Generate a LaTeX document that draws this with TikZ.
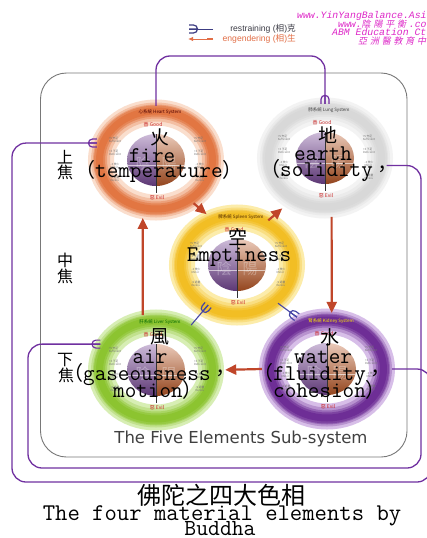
\documentclass[tikz,border=0pt]{standalone}
\usepackage{fontspec}
\usetikzlibrary{arrows.meta,calc,shapes.geometric}
\newfontfamily\cjk{Noto Sans CJK TC}
\newfontfamily\cjkit[FakeSlant=0.2]{Noto Sans CJK TC}
\newfontfamily\lsans{Liberation Sans}
\newfontfamily\dvsans{DejaVu Sans}
\newfontfamily\lmono{Liberation Mono}
\definecolor{rPurple}{RGB}{112,48,160}
\definecolor{rBlue}{RGB}{70,70,165}
\definecolor{eRed}{RGB}{192,70,42}
\definecolor{frameC}{RGB}{120,120,120}
\definecolor{fireC}{RGB}{226,118,66}
\definecolor{fireG}{RGB}{250,222,205}
\definecolor{earthC}{RGB}{216,216,216}
\definecolor{earthG}{RGB}{243,243,243}
\definecolor{midC}{RGB}{242,190,36}
\definecolor{midG}{RGB}{252,236,170}
\definecolor{airC}{RGB}{140,196,48}
\definecolor{airG}{RGB}{215,238,180}
\definecolor{waterC}{RGB}{110,46,150}
\definecolor{waterG}{RGB}{215,190,232}
\definecolor{sphP}{RGB}{120,70,152}
\definecolor{sphO}{RGB}{194,88,34}
\definecolor{webM}{RGB}{222,40,200}
\definecolor{goodR}{RGB}{200,40,40}
\definecolor{legB}{RGB}{60,60,130}
\definecolor{legO}{RGB}{226,110,70}
\definecolor{legT}{RGB}{60,60,70}
\newcommand\zlp{{\cjk\fontsize{20}{20}\selectfont （}}
\newcommand\zrp{{\cjk\fontsize{20}{20}\selectfont ）}}
\newcommand\zcm{{\cjk\fontsize{20}{20}\selectfont ，}}
\newcommand\wz[1]{{\cjkit\fontsize{9}{9}\selectfont #1}\kern2.8pt}
\newcommand\elemdraw[5]{%
  \draw[#3, line width=26pt] (#1.center) ellipse [x radius=55, y radius=47.5];
  \draw[#3!70!#2, line width=19pt] (#1.center) ellipse [x radius=55.5, y radius=48];
  \draw[#3!40!#2, line width=14pt] (#1.center) ellipse [x radius=56, y radius=48.5];
  \draw[#3!15!#2, line width=11pt] (#1.center) ellipse [x radius=56.5, y radius=49];
  \draw[#2, line width=7pt] (#1.center) ellipse [x radius=56.5, y radius=49];
  \begin{scope}
    \clip (#1.center) ellipse [x radius=29, y radius=26];
    \shade[top color=sphP!35!white, middle color=sphP, bottom color=sphP!75!black] ($(#1.center)+(-30,-27)$) rectangle ($(#1.center)+(0,27)$);
    \shade[top color=sphO!30!white, middle color=sphO, bottom color=sphO!75!black] ($(#1.center)+(0,-27)$) rectangle ($(#1.center)+(30,27)$);
    \draw[white, opacity=.6, line width=.5pt] ($(#1.center)+(-30,5)$) -- ($(#1.center)+(30,5)$);
  \end{scope}
  \node[yinyang] (#1yin) at ($(#1.center)+(-13,4)$) {陰};
  \node[yinyang] (#1yang) at ($(#1.center)+(13,4)$) {陽};
  \draw[black!80, line width=.6pt] ($(#1.center)+(0,-26)$) -- ($(#1.center)+(0,33)$);
  \node[syslbl, text=#5] (#1sys) at ($(#1.center)+(4,-48)$) {#4};
  \node[goodlbl] (#1good) at ($(#1.center)+(-3,-35)$) {善 \textit{Good}};
  \node[goodlbl] (#1evil) at ($(#1.center)+(1,38)$) {惡 \textit{Evil}};
  \foreach \dy/\a/\b in {-20/{+5 充足}/Sufficient,-7/{+3 不足}/Deficient,6/{-3 微少}/Minor,19/{-5 過量}/Excess}{
    \node[tinylbl] (#1l\dy) at ($(#1.center)+(-41,\dy)$) {\a\\\b};
    \node[tinylbl] (#1r\dy) at ($(#1.center)+(44,\dy)$) {\a\\\b};
  }
}
\tikzset{fork/.pic={\draw[#1, line width=1.2pt, line cap=butt] (-9,0) -- (0,0) (0,4) -- (-4.5,4) arc[start angle=90, end angle=270, radius=4] -- (0,-4);}}
\begin{document}
\begin{tikzpicture}[x=1pt,y=-1pt,
  elnode/.style={ellipse, minimum width=124pt, minimum height=108pt, inner sep=0pt},
  restrain/.style={draw=rPurple, line width=1.3pt, rounded corners=14pt},
  restrainB/.style={draw=rBlue, line width=1.1pt},
  engender/.style={draw=eRed, line width=2.2pt, -{Triangle[length=11pt,width=10pt]}},
  bigmono/.style={font=\ttfamily\fontsize{22.5}{22}\selectfont, inner sep=0pt, anchor=base},
  bigcjk/.style={font=\cjk\fontsize{19}{19}\selectfont, inner sep=0pt},
  sidecjk/.style={font=\cjk\fontsize{16}{16}\selectfont, inner sep=0pt},
  yinyang/.style={font=\cjk\fontsize{15}{15}\selectfont, text=white, opacity=.3, inner sep=0pt},
  syslbl/.style={font=\cjk\fontsize{4.5}{5}\selectfont, inner sep=0pt},
  goodlbl/.style={font=\cjk\fontsize{5}{5}\selectfont, text=goodR, inner sep=0pt},
  tinylbl/.style={font=\cjk\fontsize{2.8}{3.2}\selectfont, text=black!55, align=left, inner sep=0pt},
  webtxt/.style={anchor=base west, inner sep=0pt, font=\lmono\itshape\fontsize{9.8}{10}\selectfont, text=webM},
  legtxt/.style={anchor=east, inner sep=0pt, font=\lsans\fontsize{8.6}{9}\selectfont}]
\useasboundingbox (0,0) rectangle (427,538);
\fill[white] (0,0) rectangle (427,538);
% frame
\node[draw=frameC, line width=.9pt, rounded corners=26pt, minimum width=366.5pt, minimum height=384pt, inner sep=0pt] (frame) at (223.75,265) {};
% element nodes
\node[elnode] (fire) at (156,160) {};
\node[elnode] (earth) at (325,158) {};
\node[elnode, minimum width=120pt, minimum height=104pt] (mid) at (237,265) {};
\node[elnode, minimum width=126pt] (air) at (156,370) {};
\node[elnode, minimum width=130pt] (water) at (327,369) {};
\coordinate (tY) at (240,56);
\coordinate (wR) at (431,482);
\coordinate (wL) at (12,482);
\coordinate (eR) at (421,468);
\coordinate (eL) at (28,468);
% elements
\elemdraw{fire}{fireC}{fireG}{心系統 Heart System}{black!70!red}
\elemdraw{earth}{earthC}{earthG}{肺系統 Lung System}{black!75}
\elemdraw{mid}{midC}{midG}{脾系統 Spleen System}{black!70!orange}
\elemdraw{air}{airC}{airG}{肝系統 Liver System}{black!60!green}
\elemdraw{water}{waterC}{waterG}{腎系統 Kidney System}{yellow!90!orange}
% restraining connectors
\draw[restrain] (fire.north) |- (earth.north |- tY) -- (earth.north);
\pic[rotate=-90] at (earth.north) {fork=rPurple};
\draw[restrain] (water.east) -| (wR) -- (wL) |- (fire.164);
\pic at (fire.164) {fork=rPurple};
\draw[restrain] (earth.-7) -| (eR) -- (eL) |- (air.155);
\pic at (air.155) {fork=rPurple};
\draw[restrainB] (air.52) -- ++(17,-20) coordinate (acTip);
\pic[rotate=50] at (acTip) {fork=rBlue};
\draw[restrainB] (mid.-43) -- ++(19,14) coordinate (mwTip);
\pic[rotate=-36] at (mwTip) {fork=rBlue};
% engendering arrows
\draw[engender, shorten <=2pt, shorten >=5pt] (air.104) -- (fire.256);
\draw[engender] (fire.-49) -- ++(13,11) coordinate (fmTip);
\draw[engender] (mid.55) -- ++(14,-12) coordinate (meTip);
\draw[engender, shorten <=5pt, shorten >=2pt] (earth.-83) -- (water.85);
\draw[engender, shorten >=6pt] (water.west) -- (air.east);
% big texts
\node[bigcjk] (fireZh) at (160,137) {火};
\node[bigmono] (fireEn) at (152,162) {fire};
\node[bigmono, anchor=base west] (fireQ) at (75,177) {\zlp temperature\zrp};
\node[bigcjk] (earthZh) at (328,135) {地};
\node[bigmono] (earthEn) at (323,160) {earth};
\node[bigmono, anchor=base west] (earthQ) at (260,176) {\zlp solidity\zcm};
\node[bigcjk] (midZh) at (238,237) {空};
\node[bigmono] (midEn) at (239,261) {Emptiness};
\node[bigcjk] (airZh) at (160,337) {風};
\node[bigmono] (airEn) at (150,363) {air};
\node[bigmono, anchor=base west] (airQ) at (63,380) {\zlp gaseousness\zcm};
\node[bigmono, anchor=base west] (airQb) at (113,397) {motion\zrp};
\node[bigcjk] (waterZh) at (330,337) {水};
\node[bigmono] (waterEn) at (323,363) {water};
\node[bigmono, anchor=base west] (waterQ) at (253,380) {\zlp fluidity\zcm};
\node[bigmono, anchor=base west] (waterQb) at (273,397) {cohesion\zrp};
\node[sidecjk] (shang) at (65,157) {上};
\node[sidecjk] (jiao1) at (65,172) {焦};
\node[sidecjk] (zhong) at (65,260) {中};
\node[sidecjk] (jiao2) at (65,276) {焦};
\node[sidecjk] (xia) at (65,360) {下};
\node[sidecjk] (jiao3) at (66,375) {焦};
\node[anchor=base, inner sep=0pt, font=\dvsans\fontsize{16.5}{18}\selectfont, text=black!75] (sub) at (241,443) {The Five Elements Sub-system};
% bottom title
\node[inner sep=0pt, font=\cjk\fontsize{24}{24}\selectfont] (ttlZh) at (221,495) {佛陀之四大色相};
\node[anchor=base, inner sep=0pt, font=\ttfamily\fontsize{24}{24}\selectfont] (ttlEn1) at (222,520.5) {The four material elements by};
\node[anchor=base, inner sep=0pt, font=\ttfamily\fontsize{23}{23}\selectfont] (ttlEn2) at (220,535) {Buddha};
% legend
\coordinate (lgA) at (213,29);
\coordinate (lgB) at (189,29);
\draw[draw=legB, line width=1pt] (lgA) -- (lgB);
\pic[rotate=180] at (lgB) {fork=legB};
\coordinate (lgC) at (213,39);
\coordinate (lgD) at (188,39);
\draw[draw=legO, line width=1pt, -{Latex[length=5pt,width=4.5pt]}] (lgC) -- (lgD);
\fill[legO] (207,37.6) rectangle (213,40.4);
\node[legtxt, text=legT] (lgRt) at (296,29) {restraining ({\cjk 相}){\cjk 克}};
\node[legtxt, text=legO] (lgEt) at (296,39) {engendering ({\cjk 相}){\cjk 生}};
% web text
\node[webtxt] (w1) at (297,19) {www.YinYangBalance.Asi};
\node[webtxt] (w2) at (338,27.5) {www.\wz{陰}\wz{陽}\wz{平}\wz{衡}.co};
\node[webtxt] (w3) at (332,35.5) {ABM Education Ct};
\node[webtxt] (w4) at (358,44.5) {\wz{亞}\wz{洲}\wz{醫}\wz{教}\wz{育}\wz{中}};
\end{tikzpicture}
\end{document}
